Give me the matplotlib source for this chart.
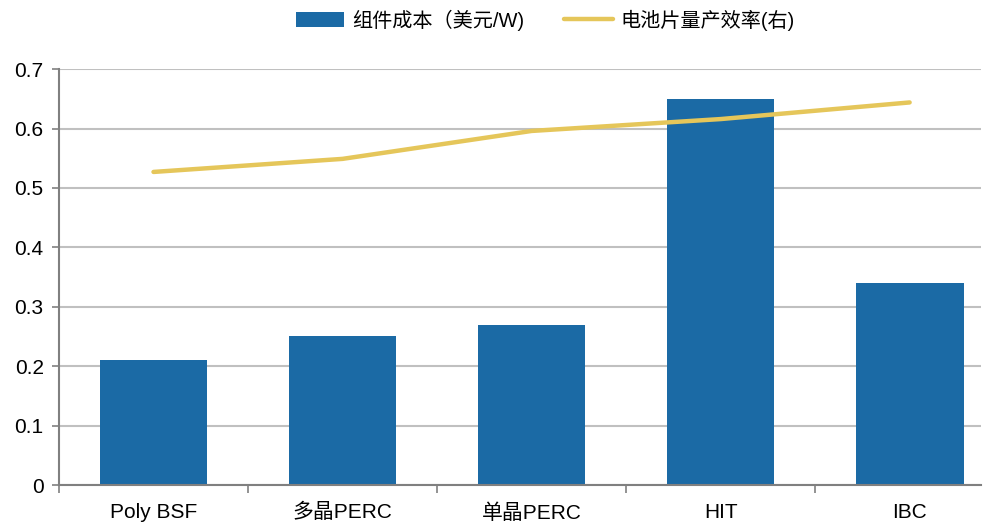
import matplotlib
matplotlib.use("Agg")
import matplotlib.pyplot as plt
import numpy as np

plt.rcParams['font.family'] = ['Liberation Sans', 'Noto Sans CJK SC', 'DejaVu Sans']

categories = ["Poly BSF", "多晶PERC", "单晶PERC", "HIT", "IBC"]
module_cost = [0.21, 0.25, 0.27, 0.65, 0.34]
cell_eff = [0.527, 0.549, 0.596, 0.616, 0.644]

bar_color = "#1B6AA5"
line_color = "#E5C65A"

fig = plt.figure(figsize=(9.88, 5.24), dpi=100)
ax = fig.add_axes([0.0597, 0.0744, 0.9333, 0.7936])

x = np.arange(len(categories))
bars = ax.bar(x, module_cost, width=0.57, color=bar_color, zorder=2, label="组件成本（美元/W)")
line, = ax.plot(x, cell_eff, color=line_color, lw=3.2, solid_capstyle='round', zorder=3, label="电池片量产效率(右)")

ax.set_yticks(np.arange(0, 0.71, 0.1))
ax.set_yticklabels(["0", "0.1", "0.2", "0.3", "0.4", "0.5", "0.6", "0.7"])
ax.set_xticks(x)
ax.set_xticklabels(categories)
ax.set_xticks(np.arange(-0.5, 4.0, 1.0), minor=True)
ax.set_ylim(0, 0.7)
ax.set_xlim(-0.5, 4.378)
ax.tick_params(axis='x', which='major', length=0, pad=13, labelsize=15)
ax.tick_params(axis='x', which='minor', length=6, color='#808080', width=1.2)
ax.tick_params(axis='y', length=5, color='#808080', width=1.2, labelsize=15, pad=6)

ax.grid(axis='y', color='#C0C0C0', lw=1.5, zorder=0)
ax.set_axisbelow(True)
for s in ['top', 'right']:
    ax.spines[s].set_visible(False)
for s in ['left', 'bottom']:
    ax.spines[s].set_color('#808080')
    ax.spines[s].set_linewidth(1.5)

fig.legend(handles=[bars, line], loc='center', bbox_to_anchor=(0.552, 0.962), ncol=2,
           frameon=False, fontsize=14.5, handlelength=2.4, handleheight=0.7,
           columnspacing=2.0, handletextpad=0.4)

fig.savefig("out.png", dpi=100)
